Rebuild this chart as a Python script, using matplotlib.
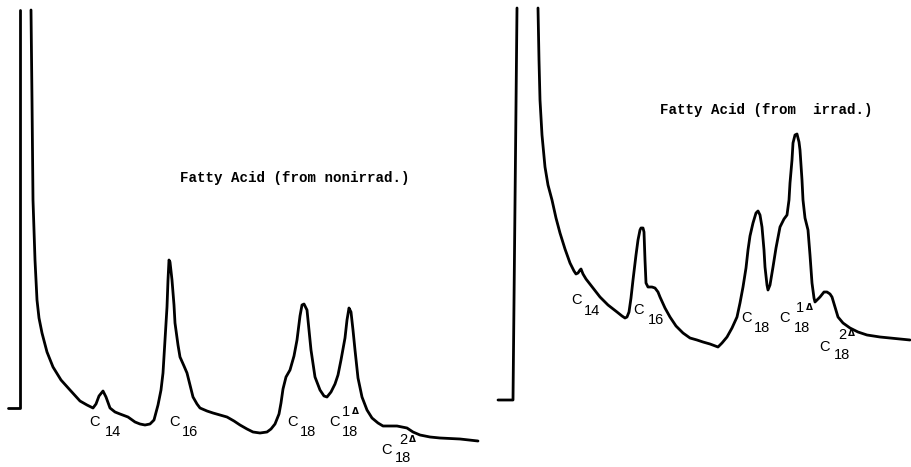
import matplotlib
matplotlib.use('Agg')
import matplotlib.pyplot as plt

# ---- data: chromatogram traces (retention position, detector response) ----
left_x = [31, 32, 33, 35, 37, 39, 42, 47, 53, 61, 70, 80, 87, 93, 96, 99, 103, 106, 110, 115,
          120, 128, 135, 140, 145, 150, 154, 158, 161, 163, 165, 167, 168, 169, 170, 172, 174,
          175, 178, 180, 184, 187, 190, 193, 197, 200, 207, 213, 220, 227, 234, 240, 247, 253,
          260, 267, 271, 275, 279, 281, 283, 286, 290, 294, 297, 300, 302, 304, 307, 309, 311,
          315, 320, 324, 327, 331, 335, 338, 341, 345, 347, 349, 351, 353, 355, 358, 362, 367,
          372, 378, 383, 390, 397, 402, 407, 413, 420, 430, 440, 460, 478]
left_y = [10, 100, 200, 260, 300, 318, 333, 352, 367, 380, 390, 401, 405, 408, 404, 396, 391,
          397, 408, 412, 414, 417, 422, 424, 425, 424, 420, 405, 390, 373, 340, 307, 280, 260,
          262, 280, 305, 323, 345, 357, 366, 373, 385, 397, 404, 408, 411, 413, 415, 417, 421,
          425, 429, 432, 433, 432, 429, 424, 414, 403, 389, 377, 370, 356, 340, 316, 305, 304,
          310, 330, 350, 377, 390, 396, 397, 392, 384, 375, 360, 338, 320, 308, 312, 330, 350,
          378, 397, 410, 418, 423, 426, 426, 426, 427, 428, 432, 435, 437, 438, 439, 441]

right_x = [538, 539, 540, 542, 545, 548, 552, 556, 560, 565, 570, 574, 576, 578, 580, 581, 583,
           586, 593, 600, 608, 617, 622, 625, 627, 629, 631, 633, 636, 638, 640, 641, 643, 644,
           645, 646, 648, 652, 655, 658, 660, 665, 670, 676, 683, 690, 697, 703, 710, 718, 722,
           727, 732, 737, 740, 743, 746, 748, 750, 753, 756, 758, 760, 762, 764, 765, 767, 768,
           770, 773, 776, 780, 784, 787, 789, 790, 792, 793, 795, 797, 799, 800, 802, 803, 805,
           808, 810, 812, 814, 815, 817, 820, 824, 827, 830, 832, 835, 838, 843, 850, 858, 867,
           880, 890, 900, 910]
right_y = [8, 60, 100, 135, 167, 185, 200, 218, 233, 249, 263, 271, 274, 273, 270, 269, 274,
           279, 288, 297, 305, 312, 316, 318, 317, 312, 298, 280, 255, 240, 230, 228, 228, 232,
           260, 283, 287, 287, 288, 292, 297, 308, 317, 326, 333, 338, 340, 342, 344, 347, 343,
           337, 328, 317, 303, 287, 268, 250, 236, 223, 213, 211, 215, 227, 250, 267, 285, 290,
           285, 267, 248, 227, 219, 215, 200, 183, 160, 143, 135, 134, 142, 150, 180, 200, 218,
           230, 255, 283, 298, 302, 300, 297, 292, 292, 294, 297, 307, 317, 323, 328, 332, 335,
           337, 338, 339, 340]

# injection marks (baseline tick + pen line)
left_mark_x = [8, 20, 20]
left_mark_y = [408, 408, 10]
right_mark_x = [498, 513, 517]
right_mark_y = [400, 400, 8]

titles = ["Fatty Acid (from nonirrad.)", "Fatty Acid (from  irrad.)"]
peak_subs = ["14", "16", "18", "18", "18"]
peak_sups = ["", "", "", "1", "2"]

# ---- layout (label anchor positions) ----
left_label_pos = [((95, 422), (113, 432), None),
                  ((175, 422), (190, 432), None),
                  ((293, 422), (308, 432), None),
                  ((335, 422), (350, 432), (346, 412)),
                  ((387, 450), (403, 458), (403, 440))]
right_label_pos = [((577, 300), (592, 311), None),
                   ((639, 310), (656, 320), None),
                   ((747, 318), (762, 328), None),
                   ((785, 318), (802, 328), (800, 308)),
                   ((825, 347), (842, 355), (842, 335))]

fig = plt.figure(figsize=(9.11, 4.67), dpi=100)
ax = fig.add_axes([0, 0, 1, 1])
ax.set_xlim(0, 911)
ax.set_ylim(467, 0)
ax.axis('off')

lw = 2.0
for xs, ys in [(left_x, left_y), (right_x, right_y),
               (left_mark_x, left_mark_y), (right_mark_x, right_mark_y)]:
    ax.plot(xs, ys, color='black', lw=lw, solid_joinstyle='round', solid_capstyle='round')

tfont = dict(family='Liberation Mono', fontweight='bold', fontsize=10.2, color='black')
ax.text(410, 178, titles[0], ha='right', va='center', **tfont)
ax.text(660, 110, titles[1], ha='left', va='center', **tfont)

lfont = dict(family='Liberation Sans', fontsize=10.5, color='black', ha='center', va='center')
for positions in (left_label_pos, right_label_pos):
    for (cpos, spos, ppos), sub, sup in zip(positions, peak_subs, peak_sups):
        ax.text(cpos[0], cpos[1], "C", **lfont)
        ax.text(spos[0], spos[1], sub, **lfont)
        if ppos is not None:
            ax.text(ppos[0], ppos[1], sup, **lfont)
            ax.text(ppos[0] + 9, ppos[1] - 1, "Δ", family='DejaVu Sans', fontsize=6.5,
                    fontweight='bold', ha='center', va='center', color='black')

fig.savefig('out.png', dpi=100)
